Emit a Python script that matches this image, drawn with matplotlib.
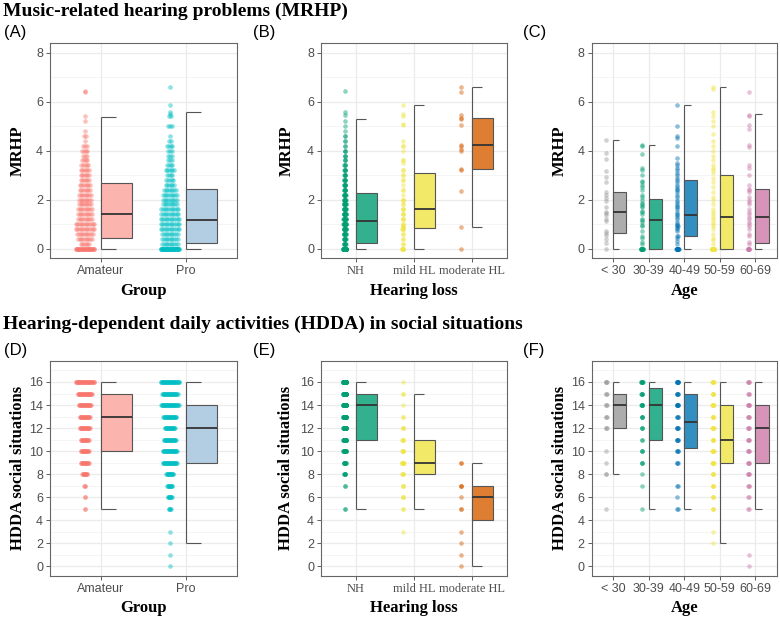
import numpy as np
import matplotlib
matplotlib.use("Agg")
import matplotlib.pyplot as plt

SANS = "Liberation Sans"
SERIF = "Liberation Serif"

# ---------------- MRHP (top row) ----------------
group_names = ["Amateur", "Pro"]
amateur_lv = [0, 0.2, 0.4, 0.6, 0.8, 1.0, 1.2, 1.4, 1.6, 1.8, 2.0, 2.2, 2.4, 2.6, 2.8,
              3.0, 3.2, 3.4, 3.6, 3.8, 4.0, 4.2, 4.4, 4.6, 4.8, 5.2, 5.4, 6.4, 6.45]
amateur_n = [35, 6, 9, 10, 12, 12, 9, 9, 9, 8, 8, 8, 7, 7, 6,
             6, 6, 5, 4, 3, 4, 3, 1, 2, 1, 1, 1, 1, 1]
pro_lv = [0, 0.2, 0.4, 0.6, 0.8, 1.0, 1.2, 1.4, 1.6, 1.8, 2.0, 2.2, 2.4, 2.6, 2.8, 3.0,
          3.2, 3.4, 3.6, 3.8, 4.0, 4.2, 4.4, 4.6, 5.0, 5.4, 5.5, 5.6, 5.85, 6.6]
pro_n = [52, 10, 10, 10, 12, 12, 12, 11, 11, 9, 9, 9, 8, 6, 5, 4,
         6, 4, 3, 3, 3, 4, 2, 1, 3, 2, 1, 1, 1, 1]

hl_names = ["NH", "mild HL", "moderate HL"]
nh_lv = [0, 0.2, 0.4, 0.6, 0.8, 1.0, 1.2, 1.4, 1.6, 1.8, 2.0, 2.2, 2.4, 2.6, 2.8, 3.0,
         3.2, 3.4, 3.6, 3.8, 4.0, 4.2, 4.4, 4.6, 4.8, 5.0, 5.2, 5.45, 5.6, 6.45]
nh_n = [45, 8, 9, 10, 12, 14, 13, 12, 11, 10, 9, 9, 7, 7, 6, 5,
        5, 4, 3, 3, 3, 2, 2, 2, 1, 1, 1, 1, 1, 1]
mild_lv = [0, 0.2, 0.4, 0.6, 0.8, 0.9, 1.0, 1.2, 1.4, 1.6, 1.8, 2.0, 2.2, 2.4, 2.6, 2.8,
           3.0, 3.2, 3.5, 3.6, 4.0, 4.2, 4.4, 5.05, 5.1, 5.4, 5.5, 5.85]
mild_n = [6, 2, 2, 2, 4, 3, 2, 3, 3, 3, 2, 3, 1, 2, 1, 2,
          2, 2, 1, 2, 1, 2, 1, 1, 1, 1, 1, 1]
moderate_lv = [0, 0.88, 2.35, 3.22, 3.27, 4.0, 4.05, 4.2, 4.25, 5.05, 5.28, 5.35, 5.45, 6.4, 6.6]
moderate_n = [1] * 15

age_names = ["< 30", "30-39", "40-49", "50-59", "60-69"]
age30_lv = [0, 0.22, 0.4, 0.55, 0.65, 0.72, 1.13, 1.2, 1.38, 1.45, 1.5, 1.7, 1.95, 2.05,
            2.2, 2.3, 2.72, 2.94, 3.17, 3.64, 3.92, 4.43]
age3039_lv = [0] * 12 + [0.2, 0.25, 0.45, 0.5, 0.7, 0.9, 0.95, 1.1, 1.15, 1.2, 1.4, 1.5,
              1.55, 1.7, 1.75, 1.8, 1.85, 2.0, 2.1, 2.2, 2.4, 2.5, 2.6, 2.7, 2.75,
              3.0, 3.2, 3.3, 3.85, 4.2, 4.22]
age4049_lv = [0] * 14 + [0.2, 0.3, 0.45, 0.5, 0.5, 0.7, 0.8, 0.85, 0.9, 0.9, 0.95, 1.0,
              1.1, 1.2, 1.3, 1.35, 1.4, 1.5, 1.6, 1.7, 1.75, 1.8, 1.9, 2.0, 2.1, 2.2,
              2.3, 2.4, 2.45, 2.5, 2.6, 2.7, 2.8, 2.9, 3.0, 3.1, 3.2, 3.3, 3.4, 3.5,
              3.7, 4.2, 4.5, 4.6, 5.0, 5.87]
age5059_lv = [0] * 22 + [0.2, 0.35, 0.45, 0.6, 0.8, 0.9, 1.0, 1.1, 1.2, 1.3, 1.4, 1.5,
              1.6, 1.8, 2.0, 2.1, 2.3, 2.5, 2.7, 2.9, 3.1, 3.2, 3.3, 3.4, 3.6, 3.8,
              4.0, 4.2, 4.4, 4.7, 5.0, 5.2, 5.4, 5.6, 6.5, 6.62]
age6069_lv = [0] * 8 + [0.2, 0.25, 0.5, 0.6, 0.8, 0.9, 1.0, 1.1, 1.2, 1.3, 1.4, 1.5, 1.6,
              1.8, 1.9, 2.0, 2.1, 2.3, 2.4, 2.45, 2.6, 3.0, 3.3, 3.4, 4.15, 4.25,
              4.9, 5.05, 5.4, 5.45, 6.4]

# box statistics: q1, median, q3, whisker low, whisker high
grp_mrhp_box = [[0.45, 1.40, 2.69, 0, 5.38], [0.22, 1.16, 2.42, 0, 5.57]]
hl_mrhp_box = [[0.24, 1.11, 2.28, 0, 5.28], [0.82, 1.60, 3.07, 0, 5.86],
               [3.25, 4.22, 5.32, 0.88, 6.60]]
age_mrhp_box = [[0.62, 1.48, 2.29, 0, 4.45], [0, 1.16, 2.04, 0, 4.22],
                [0.51, 1.36, 2.82, 0, 5.86], [0, 1.27, 3.01, 0, 6.61],
                [0.22, 1.29, 2.42, 0, 5.48]]

# ---------------- HDDA social situations (bottom row) ----------------
amateur_hd_lv = [16, 15, 14, 13, 12, 11, 10, 9, 8, 7, 6, 5]
amateur_hd_n = [37, 29, 25, 21, 21, 17, 17, 17, 11, 3, 2, 2]
pro_hd_lv = [16, 15, 14, 13, 12, 11, 10, 9, 8, 7, 6, 5, 3, 2, 1, 0]
pro_hd_n = [37, 31, 35, 27, 21, 25, 29, 29, 15, 11, 9, 5, 1, 1, 1, 1]

nh_hd_lv = [16, 15, 14, 13, 12, 11, 10, 9, 8, 7, 5]
nh_hd_n = [60, 40, 45, 30, 25, 20, 15, 10, 6, 2, 2]
mild_hd_lv = [16, 15, 14, 13, 12, 11, 10, 9, 8, 7, 6, 5, 3]
mild_hd_n = [1, 2, 1, 2, 3, 4, 5, 8, 4, 3, 3, 2, 1]
moderate_hd_lv = [9, 7, 6, 5, 3, 2, 1, 0]
moderate_hd_n = [2, 3, 1, 2, 1, 1, 1, 1]

age30_hd_lv = [16, 15, 14, 13, 12, 10, 9, 8, 5]
age30_hd_n = [4, 3, 3, 3, 3, 1, 1, 2, 1]
age3039_hd_lv = [16, 15, 14, 13, 12, 11, 10, 9, 8, 7, 5]
age3039_hd_n = [8, 5, 6, 4, 3, 2, 3, 3, 1, 1, 1]
age4049_hd_lv = [16, 15, 14, 13, 12, 11, 10, 9, 7, 6, 5]
age4049_hd_n = [8, 5, 7, 4, 5, 5, 4, 3, 2, 1, 2]
age5059_hd_lv = [16, 15, 14, 13, 12, 11, 10, 9, 8, 7, 6, 5, 3, 2]
age5059_hd_n = [6, 5, 6, 5, 6, 5, 6, 6, 4, 4, 3, 3, 1, 1]
age6069_hd_lv = [16, 15, 14, 13, 12, 11, 10, 9, 8, 7, 6, 5, 1, 0]
age6069_hd_n = [4, 3, 5, 4, 4, 4, 4, 4, 4, 3, 2, 2, 1, 1]

grp_hdda_box = [[10, 13, 15, 5, 16], [9, 12, 14, 2, 16]]
hl_hdda_box = [[11, 14, 15, 5, 16], [8, 9, 11, 5, 15], [4, 6, 7, 0, 9]]
age_hdda_box = [[12, 14, 15, 8, 16], [11, 14, 15.5, 5, 16], [10.25, 12.5, 15, 5, 16],
                [9, 11, 14, 2, 16], [9, 12, 14, 5, 16]]

# colours
grp_pts = ["#F8766D", "#00BFC4"]
grp_box = ["#FBB4AE", "#B3CDE3"]
hl_pts = ["#009E73", "#F0E442", "#D55E00"]
hl_box = ["#33B18F", "#F3E968", "#DD7E33"]
age_pts = ["#999999", "#009E73", "#0072B2", "#F0E442", "#CC79A7"]
age_box = ["#ADADAD", "#33B18F", "#338EC1", "#F3E968", "#D694B9"]


def spread(vals, cap, step):
    vals = np.asarray(vals, dtype=float)
    off = np.zeros(len(vals))
    for v in np.unique(vals):
        idx = np.where(vals == v)[0]
        n = len(idx)
        if n > 1:
            h = min(cap, step * (n - 1) / 2)
            off[idx] = np.linspace(-h, h, n)
    return off


def panel(ax, cats, data, box, pts, fills, ylim, yticks, yminor, cap, step,
          xlabel, ylabel, ylab_px, serif_x=False):
    pos = np.arange(1, len(cats) + 1)
    box = np.array(box, dtype=float)
    for i, v in enumerate(data):
        v = np.asarray(v, dtype=float)
        ax.scatter(pos[i] - 0.19 + spread(v, cap, step), v, s=11, color=pts[i],
                   alpha=0.45, linewidths=0, zorder=3)
    q1, med, q3, lo, hi = box.T
    ax.vlines(pos, lo, hi, color="#555555", lw=0.8, zorder=2)
    ax.hlines(lo, pos, pos + 0.18, color="#555555", lw=0.8, zorder=2)
    ax.hlines(hi, pos, pos + 0.18, color="#555555", lw=0.8, zorder=2)
    ax.bar(pos, q3 - q1, bottom=q1, width=0.37, align="edge", color=fills,
           edgecolor="#555555", linewidth=0.8, zorder=2.5)
    ax.hlines(med, pos, pos + 0.37, color="#333333", lw=1.3, zorder=4)

    ax.set_xlim(0.4, len(cats) + 0.6)
    ax.set_ylim(*ylim)
    ax.set_xticks(pos)
    ax.set_xticklabels(cats, family=SERIF if serif_x else SANS, fontsize=9,
                       color="#4D4D4D")
    ax.set_yticks(yticks)
    ax.set_yticks(yminor, minor=True)
    for t in ax.get_yticklabels():
        t.set_family(SANS)
        t.set_fontsize(9)
        t.set_color("#4D4D4D")
    ax.tick_params(which="major", length=3, width=0.6, color="#444444", pad=2)
    ax.tick_params(which="minor", length=0)
    ax.set_axisbelow(True)
    ax.grid(which="major", color="#EBEBEB", lw=0.9)
    ax.grid(which="minor", axis="y", color="#F2F2F2", lw=0.6)
    for s in ax.spines.values():
        s.set_color("#666666")
        s.set_linewidth(0.8)
    ax.set_xlabel(xlabel, family=SERIF, weight="bold", fontsize=12, labelpad=4)
    ax.set_ylabel(ylabel, family=SERIF, weight="bold", fontsize=12)
    wpx = ax.get_position().width * 780.0
    ax.yaxis.set_label_coords(-ylab_px / wpx, 0.5)


def expand(levels, counts):
    return np.repeat(levels, counts)


fig = plt.figure(figsize=(7.8, 6.18), dpi=100)
W, H = 780.0, 618.0
lefts = [50, 321, 591.7]
widths = [187, 185.7, 185]
tops = [43, 360.7]
h_px = 215.3
ylab_off = [24, 26.5, 24]

axes = []
for r in range(2):
    row = []
    for c in range(3):
        ax = fig.add_axes([lefts[c] / W, 1 - (tops[r] + h_px) / H, widths[c] / W, h_px / H])
        row.append(ax)
    axes.append(row)

top_lim = (-0.4, 8.4)
top_t = [0, 2, 4, 6, 8]
top_m = [1, 3, 5, 7]
bot_lim = (-0.85, 17.85)
bot_t = list(range(0, 17, 2))
bot_m = list(range(1, 18, 2))

panel(axes[0][0], group_names,
      [expand(amateur_lv, amateur_n), expand(pro_lv, pro_n)],
      grp_mrhp_box, grp_pts, grp_box, top_lim, top_t, top_m, 0.11, 0.02,
      "Group", "MRHP", ylab_off[0])
panel(axes[0][1], hl_names,
      [expand(nh_lv, nh_n), expand(mild_lv, mild_n), expand(moderate_lv, moderate_n)],
      hl_mrhp_box, hl_pts, hl_box, top_lim, top_t, top_m, 0.026, 0.004,
      "Hearing loss", "MRHP", ylab_off[1], serif_x=True)
panel(axes[0][2], age_names,
      [age30_lv, age3039_lv, age4049_lv, age5059_lv, age6069_lv],
      age_mrhp_box, age_pts, age_box, top_lim, top_t, top_m, 0.03, 0.006,
      "Age", "MRHP", ylab_off[2])

panel(axes[1][0], group_names,
      [expand(amateur_hd_lv, amateur_hd_n), expand(pro_hd_lv, pro_hd_n)],
      grp_hdda_box, grp_pts, grp_box, bot_lim, bot_t, bot_m, 0.11, 0.006,
      "Group", "HDDA social situations", ylab_off[0])
panel(axes[1][1], hl_names,
      [expand(nh_hd_lv, nh_hd_n), expand(mild_hd_lv, mild_hd_n),
       expand(moderate_hd_lv, moderate_hd_n)],
      hl_hdda_box, hl_pts, hl_box, bot_lim, bot_t, bot_m, 0.026, 0.004,
      "Hearing loss", "HDDA social situations", ylab_off[1], serif_x=True)
panel(axes[1][2], age_names,
      [expand(age30_hd_lv, age30_hd_n), expand(age3039_hd_lv, age3039_hd_n),
       expand(age4049_hd_lv, age4049_hd_n), expand(age5059_hd_lv, age5059_hd_n),
       expand(age6069_hd_lv, age6069_hd_n)],
      age_hdda_box, age_pts, age_box, bot_lim, bot_t, bot_m, 0.03, 0.006,
      "Age", "HDDA social situations", ylab_off[2])

fig.text(3 / W, 1 - 11 / H, "Music-related hearing problems (MRHP)", family=SERIF,
         weight="bold", fontsize=14, va="center", ha="left")
fig.text(3 / W, 1 - 324 / H,
         "Hearing-dependent daily activities (HDDA) in social situations",
         family=SERIF, weight="bold", fontsize=14, va="center", ha="left")
for lab, x, y in [("(A)", 4, 32), ("(B)", 253, 32), ("(C)", 523, 32),
                  ("(D)", 4, 351), ("(E)", 253, 351), ("(F)", 523, 351)]:
    fig.text(x / W, 1 - y / H, lab, family=SANS, fontsize=12, va="center", ha="left")

fig.savefig("out.png", dpi=100)
